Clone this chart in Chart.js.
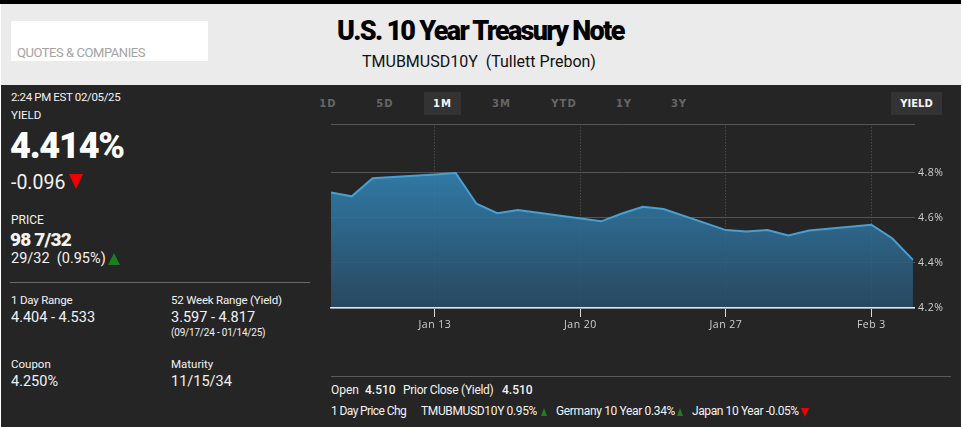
<!DOCTYPE html>
<html>
<head>
<meta charset="utf-8">
<title>U.S. 10 Year Treasury Note</title>
<script src="https://cdn.jsdelivr.net/npm/chart.js@4"></script>
<style>
  html, body { margin: 0; padding: 0; background: #fff; }
  #page { position: relative; width: 961px; height: 427px; overflow: hidden; background: #252525;
          font-family: Roboto, sans-serif; color: #f2f2f2; }
  #topbar { position: absolute; left: 0; top: 0; width: 963px; height: 4px; background: #000; }
  #header { position: absolute; left: 1px; top: 4px; width: 962px; height: 81px; background: #ebebeb; }
  #search { position: absolute; left: 11px; top: 21px; width: 197px; height: 40px; background: #fff; }
  #edge { position: absolute; left: 0; top: 4px; width: 1px; height: 423px; background: #fff; }
  .t { position: absolute; white-space: nowrap; line-height: 1; }
  .up { display: inline-block; width: 0; height: 0; border-left: 3px solid transparent; border-right: 3px solid transparent;
        border-bottom: 8px solid #1e7d1e; }
  .down { display: inline-block; width: 0; height: 0; border-left: 4px solid transparent; border-right: 4px solid transparent;
        border-top: 9px solid #f00000; }
  .tab { position: absolute; top: 92px; height: 23px; line-height: 23px; text-align: center; font-family: "DejaVu Sans", sans-serif;
         font-size: 10px; font-weight: bold; letter-spacing: 1px; color: #666; }
  .tab.on { background: #333; color: #f5f5f5; }
  .rule { position: absolute; height: 1px; background: #595959; }
  #chartBox { position: absolute; left: 320px; top: 115px; width: 641px; height: 230px; }
</style>
</head>
<body>
<div id="page">
  <div id="topbar"></div>
  <div id="header"></div>
  <div id="edge"></div>
  <div id="search"></div>
  <div class="t" style="left:17px;top:46px;font-size:13px;color:#a3a3a3;letter-spacing:-.45px">QUOTES &amp; COMPANIES</div>
  <div class="t" style="left:337px;top:18px;font-size:27px;font-weight:900;color:#000;letter-spacing:-1.7px">U.S. 10 Year Treasury Note</div>
  <div class="t" style="left:362px;top:54px;font-size:16px;color:#111">TMUBMUSD10Y&nbsp; (Tullett Prebon)</div>

  <div class="t" style="left:11px;top:92px;font-size:11.5px;letter-spacing:-.35px">2:24 PM EST 02/05/25</div>
  <div class="t" style="left:11px;top:110px;font-size:11.5px">YIELD</div>
  <div class="t" style="left:10px;top:128px;font-size:36px;font-weight:900;color:#fff;letter-spacing:-1.2px">4.414%</div>
  <div class="t" style="left:11px;top:173px;font-size:19.5px">-0.096</div>
  <div class="down" style="position:absolute;left:69px;top:174px;border-left-width:7px;border-right-width:7px;border-top-width:15px"></div>
  <div class="t" style="left:11px;top:214px;font-size:12px">PRICE</div>
  <div class="t" style="left:10px;top:230px;font-size:19px;font-weight:900;letter-spacing:-.8px">98 7/32</div>
  <div class="t" style="left:11px;top:252px;font-size:14.5px">29/32&nbsp; (0.95%)</div>
  <div class="up" style="position:absolute;left:108px;top:253px;border-left-width:6px;border-right-width:6px;border-bottom-width:12px"></div>

  <div class="rule" style="left:10px;top:282px;width:300px;background:#6a6a6a"></div>
  <div class="t" style="left:11px;top:295px;font-size:11.5px;letter-spacing:-.2px">1 Day Range</div>
  <div class="t" style="left:11px;top:311px;font-size:14.5px">4.404 - 4.533</div>
  <div class="t" style="left:171px;top:295px;font-size:11.5px;letter-spacing:-.2px">52 Week Range (Yield)</div>
  <div class="t" style="left:171px;top:311px;font-size:14.5px">3.597 - 4.817</div>
  <div class="t" style="left:171px;top:328px;font-size:10px;letter-spacing:-.2px">(09/17/24 - 01/14/25)</div>
  <div class="t" style="left:11px;top:359px;font-size:11.5px">Coupon</div>
  <div class="t" style="left:11px;top:375px;font-size:14.5px">4.250%</div>
  <div class="t" style="left:171px;top:359px;font-size:11.5px">Maturity</div>
  <div class="t" style="left:171px;top:375px;font-size:14.5px">11/15/34</div>

  <div class="tab" style="left:316px;width:24px">1D</div>
  <div class="tab" style="left:372px;width:26px">5D</div>
  <div class="tab on" style="left:424px;width:37px">1M</div>
  <div class="tab" style="left:488px;width:27px">3M</div>
  <div class="tab" style="left:548px;width:32px">YTD</div>
  <div class="tab" style="left:612px;width:24px">1Y</div>
  <div class="tab" style="left:667px;width:24px">3Y</div>
  <div class="tab on" style="left:891px;width:51px;letter-spacing:0">YIELD</div>

  <div id="chartBox"><canvas id="yieldChart"></canvas></div>

  <div class="rule" style="left:331px;top:376px;width:620px"></div>
  <div class="t" style="left:331px;top:384px;font-size:12px">Open</div>
  <div class="t" style="left:365px;top:384px;font-size:12px;font-weight:500">4.510</div>
  <div class="t" style="left:403px;top:384px;font-size:12px;letter-spacing:-.3px">Prior Close (Yield)</div>
  <div class="t" style="left:502px;top:384px;font-size:12px;font-weight:500">4.510</div>
  <div class="t" style="left:331px;top:405px;font-size:12px;letter-spacing:-.6px">1 Day Price Chg</div>
  <div class="t" style="left:421px;top:405px;font-size:12px;letter-spacing:-.35px">TMUBMUSD10Y 0.95%</div>
  <div class="up" style="position:absolute;left:541px;top:408px"></div>
  <div class="t" style="left:556px;top:405px;font-size:12px;letter-spacing:-.35px">Germany 10 Year 0.34%</div>
  <div class="up" style="position:absolute;left:677px;top:408px"></div>
  <div class="t" style="left:692px;top:405px;font-size:12px;letter-spacing:-.4px">Japan 10 Year -0.05%</div>
  <div class="down" style="position:absolute;left:801px;top:408px"></div>
</div>

<script>
/* day numbers counted from Jan 0, so Feb 3 = 34 */
const tradingDays = [8, 9, 10, 13, 14, 15, 16, 17, 21, 22, 23, 24, 27, 28, 29, 30, 31, 34, 35, 36];
const yields = [4.713, 4.696, 4.776, 4.793, 4.80, 4.663, 4.621, 4.635, 4.585, 4.62, 4.65, 4.64,
                4.546, 4.54, 4.546, 4.522, 4.544, 4.57, 4.51, 4.414];
const tickDays = [13, 20, 27, 34];
const tickDayLabels = ['Jan 13', 'Jan 20', 'Jan 27', 'Feb 3'];
const yTicks = [4.2, 4.4, 4.6, 4.8];
const yMin = 4.2;
const yMax = 5.016;  // top rule of the plot, has no label

const spacing = {
  id: 'spacing',
  beforeDraw(chart) { chart.ctx.letterSpacing = '0.5px'; }
};

const ctx = document.getElementById('yieldChart').getContext('2d');
const grad = ctx.createLinearGradient(0, 60, 0, 192);
grad.addColorStop(0, 'rgba(50,130,178,0.9)');
grad.addColorStop(1, 'rgba(42,76,102,0.9)');

new Chart(ctx, {
  type: 'line',
  data: {
    datasets: [{
      data: tradingDays.map((d, i) => ({ x: d, y: yields[i] })),
      borderColor: '#4a9fd1',
      backgroundColor: grad,
      borderWidth: 2,
      pointRadius: 0,
      tension: 0,
      fill: 'start',
    }]
  },
  plugins: [spacing],
  options: {
    responsive: true,
    maintainAspectRatio: false,
    animation: false,
    layout: { padding: { left: 11, top: 9, right: 0, bottom: 0 } },
    plugins: { legend: { display: false }, tooltip: { enabled: false } },
    scales: {
      x: {
        type: 'linear',
        min: 8,
        max: 36.05,
        afterBuildTicks: axis => { axis.ticks = tickDays.map(v => ({ value: v })); },
        afterFit: axis => { axis.height = 37; },
        grid: { color: '#5c5c5c', tickColor: '#d8d8d8', tickLength: 9, tickBorderDash: [] },
        border: { color: '#dfe6ea', width: 1.5, dash: [1, 2], z: 1 },
        ticks: {
          color: '#cfcfcf',
          font: { family: 'Open Sans', size: 10.5 },
          padding: 2,
          maxRotation: 0,
          autoSkip: false,
          callback: v => tickDayLabels[tickDays.indexOf(v)],
        }
      },
      y: {
        position: 'right',
        min: yMin,
        max: yMax,
        afterBuildTicks: axis => { axis.ticks = yTicks.concat(yMax).map(v => ({ value: v })); },
        afterFit: axis => { axis.width = 47; },
        grid: { color: '#555', tickLength: 1 },
        border: { display: false },
        ticks: {
          color: '#cfcfcf',
          font: { family: 'Open Sans', size: 10.5 },
          padding: 3,
          autoSkip: false,
          callback: v => (yTicks.includes(v) ? v.toFixed(1) + '%' : ''),
        }
      }
    }
  }
});
</script>
</body>
</html>
